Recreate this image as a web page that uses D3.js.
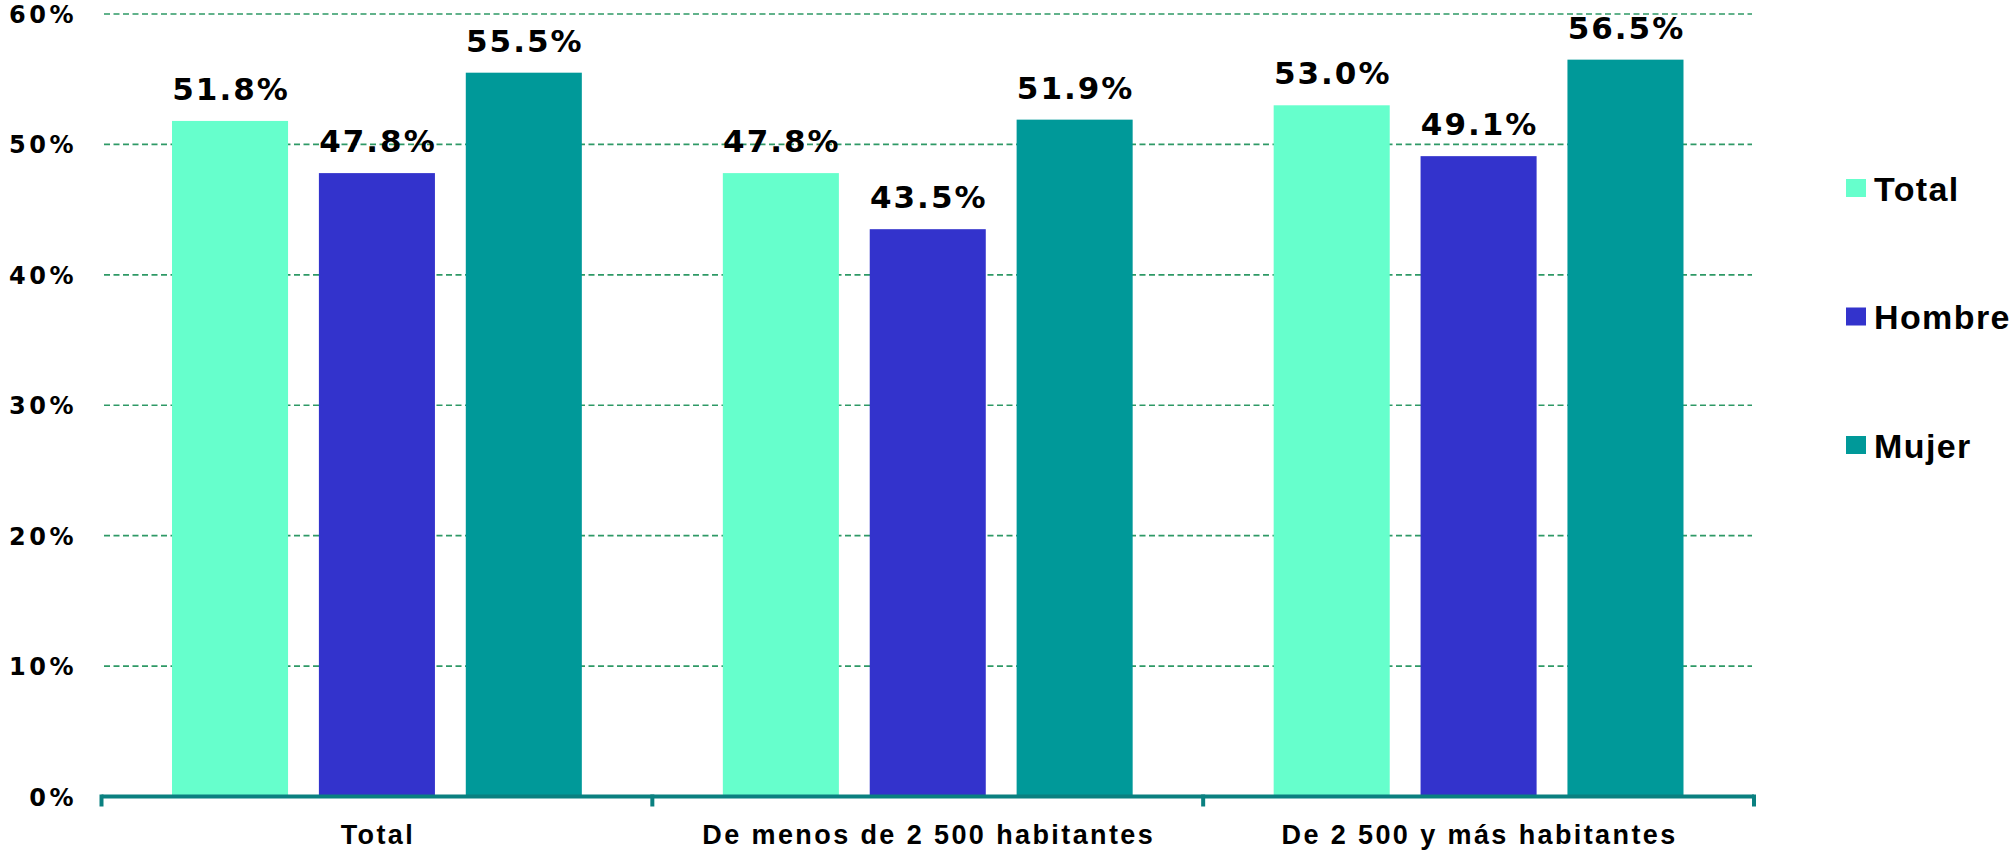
<!DOCTYPE html>
<html>
<head>
<meta charset="utf-8">
<script src="https://cdn.jsdelivr.net/npm/d3@7"></script>
<style>
  html, body { margin: 0; padding: 0; background: #ffffff; }
  svg { display: block; }
</style>
</head>
<body>
<svg id="chart" width="2015" height="853"></svg>
<script>
// ---- Data ----
const categories = ["Total", "De menos de 2 500 habitantes", "De 2 500 y más habitantes"];
const seriesNames = ["Total", "Hombre", "Mujer"];
const totalValues  = [51.8, 47.8, 53.0];
const hombreValues = [47.8, 43.5, 49.1];
const mujerValues  = [55.5, 51.9, 56.5];
const yTicks = [0, 10, 20, 30, 40, 50, 60];
const seriesColors = ["#66FFCC", "#3333CC", "#009999"];

const seriesValues = [totalValues, hombreValues, mujerValues];

// ---- Layout ----
const svg = d3.select("#chart");
const axisLeft = 101.5, axisRight = 1754;
const gridLeft = 104, gridRight = 1752;

const y = d3.scaleLinear().domain([0, 60]).range([796.5, 14]);
const x0 = d3.scaleBand().domain(categories).range([axisLeft, axisRight]).padding(0);
const x1 = d3.scaleBand().domain(seriesNames).range([0, x0.bandwidth()])
  .paddingInner(0.21).paddingOuter(0.48);
const color = d3.scaleOrdinal().domain(seriesNames).range(seriesColors);

// ---- Gridlines ----
svg.append("g").selectAll("line")
  .data(yTicks.filter(d => d > 0))
  .join("line")
  .attr("x1", gridLeft).attr("x2", gridRight)
  .attr("y1", d => y(d)).attr("y2", d => y(d))
  .attr("stroke", "#2E9966")
  .attr("stroke-width", 1.6)
  .attr("stroke-dasharray", "6,3.5");

// ---- Y tick labels ----
svg.append("g").selectAll("text")
  .data(yTicks)
  .join("text")
  .attr("x", 77)
  .attr("y", d => y(d) + 9)
  .attr("text-anchor", "end")
  .attr("font-family", "DejaVu Sans")
  .attr("font-weight", "bold")
  .attr("font-size", 24)
  .attr("letter-spacing", "3.5px")
  .attr("fill", "#000")
  .text(d => d + "%");

// ---- Bars ----
const rows = categories.map((c, i) => ({
  cat: c,
  vals: seriesNames.map((s, j) => ({ s, v: seriesValues[j][i] }))
}));

const groups = svg.append("g").selectAll("g")
  .data(rows)
  .join("g")
  .attr("transform", d => `translate(${x0(d.cat)},0)`);

groups.selectAll("rect")
  .data(d => d.vals)
  .join("rect")
  .attr("x", d => x1(d.s))
  .attr("width", x1.bandwidth())
  .attr("y", d => y(d.v))
  .attr("height", d => y(0) - y(d.v))
  .attr("fill", d => color(d.s));

groups.selectAll("text")
  .data(d => d.vals)
  .join("text")
  .attr("x", d => x1(d.s) + x1.bandwidth() / 2 + 1)
  .attr("y", d => y(d.v) - 21)
  .attr("text-anchor", "middle")
  .attr("font-family", "DejaVu Sans")
  .attr("font-weight", "bold")
  .attr("font-size", 31)
  .attr("letter-spacing", "2px")
  .attr("fill", "#000")
  .text(d => d.v.toFixed(1) + "%");

// ---- X axis ----
const axisG = svg.append("g");
axisG.append("line")
  .attr("x1", axisLeft).attr("x2", axisRight)
  .attr("y1", y(0)).attr("y2", y(0))
  .attr("stroke", "#0A8080").attr("stroke-width", 4);
const boundaries = categories.map(c => x0(c)).concat([axisRight]);
axisG.selectAll("line.tick")
  .data(boundaries)
  .join("line")
  .attr("class", "tick")
  .attr("x1", d => d).attr("x2", d => d)
  .attr("y1", y(0) - 2).attr("y2", y(0) + 10)
  .attr("stroke", "#0A8080").attr("stroke-width", 4);

axisG.selectAll("text")
  .data(categories)
  .join("text")
  .attr("x", d => x0(d) + x0.bandwidth() / 2 + 1)
  .attr("y", 844)
  .attr("text-anchor", "middle")
  .attr("font-family", "Liberation Sans, Arial, sans-serif")
  .attr("font-weight", "bold")
  .attr("font-size", 27)
  .attr("letter-spacing", "2.4px")
  .attr("fill", "#000")
  .text(d => d);

// ---- Legend ----
const legendY = d3.scalePoint().domain(seriesNames).range([188, 445]);
const legend = svg.append("g").selectAll("g")
  .data(seriesNames)
  .join("g")
  .attr("transform", d => `translate(1846,${legendY(d)})`);
legend.append("rect")
  .attr("x", 0).attr("y", -9)
  .attr("width", 20).attr("height", 18)
  .attr("fill", d => color(d));
legend.append("text")
  .attr("x", 28).attr("y", 12.5)
  .attr("font-family", "Liberation Sans, Arial, sans-serif")
  .attr("font-weight", "bold")
  .attr("font-size", 34)
  .attr("letter-spacing", "1.4px")
  .attr("fill", "#000")
  .text(d => d);
</script>
</body>
</html>
